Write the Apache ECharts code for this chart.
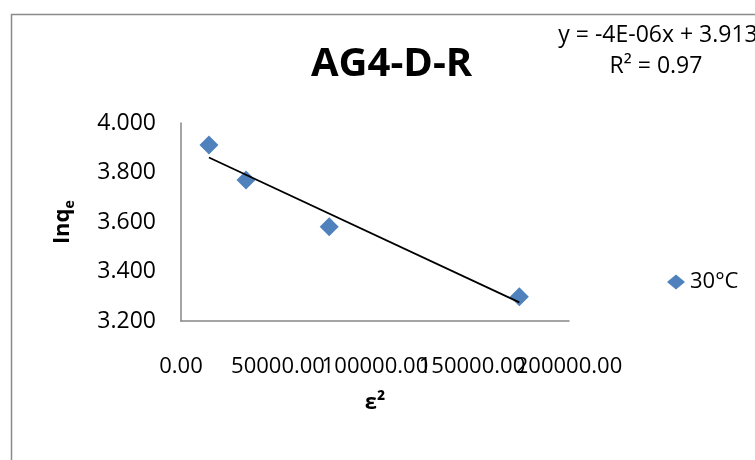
<!DOCTYPE html>
<html>
<head>
<meta charset="utf-8">
<script src="https://cdn.jsdelivr.net/npm/echarts@6/dist/echarts.min.js"></script>
<style>
html,body{margin:0;padding:0;background:#fff;}
#c{width:755px;height:460px;}
</style>
</head>
<body>
<div id="c"></div>
<script>
var chartTitle = 'AG4-D-R';
var seriesName = '30°C';
var xValues = [14400, 33500, 76400, 174400];
var yValues = [3.911, 3.770, 3.581, 3.298];
var xTicks = { min: 0, max: 200000, interval: 50000 };
var yTicks = { min: 3.2, max: 4.0, interval: 0.2 };
var equationLines = ['y = -4E-06x + 3.913', 'R\u00b2 = 0.97'];

// linear least-squares trendline from the data
var n = xValues.length, mx = 0, my = 0;
for (var i = 0; i < n; i++) { mx += xValues[i]; my += yValues[i]; }
mx /= n; my /= n;
var sxx = 0, sxy = 0;
for (var i = 0; i < n; i++) { sxx += (xValues[i]-mx)*(xValues[i]-mx); sxy += (xValues[i]-mx)*(yValues[i]-my); }
var slope = sxy / sxx, intercept = my - slope * mx;
var xMin = Math.min.apply(null, xValues), xMax = Math.max.apply(null, xValues);
var trend = [[xMin, intercept + slope * xMin], [xMax, intercept + slope * xMax]];

var pts = xValues.map(function (x, i) { return [x, yValues[i]]; });
var FONT = '"Open Sans", sans-serif';

var xLabelBase = { margin: 35, fontFamily: FONT, fontSize: 22, color: '#000', hideOverlap: false };

var chart = echarts.init(document.getElementById('c'), null, { renderer: 'canvas' });
chart.setOption({
  backgroundColor: '#fff',
  animation: false,
  textStyle: { fontFamily: FONT },
  title: {
    text: chartTitle, left: 306, top: 40,
    textStyle: { fontFamily: FONT, fontSize: 40, fontWeight: 'bold', color: '#000' }
  },
  legend: {
    data: [{ name: seriesName, icon: 'diamond', itemStyle: { color: '#4F81BD', opacity: 1 } }],
    left: 662, top: 266, itemWidth: 18, itemHeight: 15,
    textStyle: { fontFamily: FONT, fontSize: 22, color: '#000' }
  },
  grid: { left: 181, right: 186, top: 123, bottom: 139 },
  xAxis: [{
    type: 'value', position: 'bottom', min: xTicks.min, max: xTicks.max, interval: xTicks.interval,
    name: '\u03b5\u00b2', nameLocation: 'middle', nameGap: 71,
    nameTextStyle: { fontFamily: FONT, fontSize: 22, fontWeight: 'bold', color: '#000' },
    axisLine: { lineStyle: { color: '#868686', width: 1.5 } },
    axisTick: { show: false },
    splitLine: { show: false },
    axisLabel: Object.assign({}, xLabelBase, { showMinLabel: true, showMaxLabel: false,
      formatter: function (v) { return v.toFixed(2); } })
  }, {
    type: 'value', position: 'bottom', min: xTicks.min, max: xTicks.max, interval: xTicks.interval,
    axisLine: { show: false }, axisTick: { show: false }, splitLine: { show: false },
    axisLabel: Object.assign({}, xLabelBase, { showMaxLabel: true,
      formatter: function (v) { return v === xTicks.max ? v.toFixed(2) : ''; } })
  }],
  yAxis: {
    type: 'value', min: yTicks.min, max: yTicks.max, interval: yTicks.interval,
    name: '{a|lnq}{b|e}', nameLocation: 'middle', nameGap: 104, nameRotate: 90,
    nameTextStyle: {
      rich: {
        a: { fontFamily: FONT, fontSize: 22, fontWeight: 'bold', color: '#000', lineHeight: 28 },
        b: { fontFamily: FONT, fontSize: 14, fontWeight: 'bold', color: '#000', lineHeight: 14, verticalAlign: 'bottom' }
      }
    },
    axisLine: { show: true, lineStyle: { color: '#868686', width: 1.5 } },
    axisTick: { show: false },
    splitLine: { show: false },
    axisLabel: { margin: 25, fontFamily: FONT, fontSize: 23, color: '#000',
      formatter: function (v) { return v.toFixed(3); } }
  },
  series: [
    {
      name: seriesName, type: 'scatter', symbol: 'diamond', symbolSize: 19, xAxisIndex: 0,
      itemStyle: { color: '#4F81BD', opacity: 1 }, data: pts, z: 3
    },
    {
      name: 'trend', type: 'line', data: trend, showSymbol: false, symbol: 'none', xAxisIndex: 0,
      lineStyle: { color: '#000', width: 1.8 }, z: 4, silent: true
    }
  ],
  graphic: [
    { type: 'rect', left: 9, top: 12, z: -1,
      shape: { width: 800, height: 500 },
      style: { fill: 'none', stroke: '#8a8a8a', lineWidth: 1.5 } },
    { type: 'text', x: 658, y: 35, z: 10,
      style: { text: equationLines[0], fontFamily: FONT, fontSize: 23, fill: '#000', textAlign: 'center', textVerticalAlign: 'middle' } },
    { type: 'text', x: 656, y: 66, z: 10,
      style: { text: equationLines[1], fontFamily: FONT, fontSize: 23, fill: '#000', textAlign: 'center', textVerticalAlign: 'middle' } }
  ]
});
</script>
</body>
</html>
